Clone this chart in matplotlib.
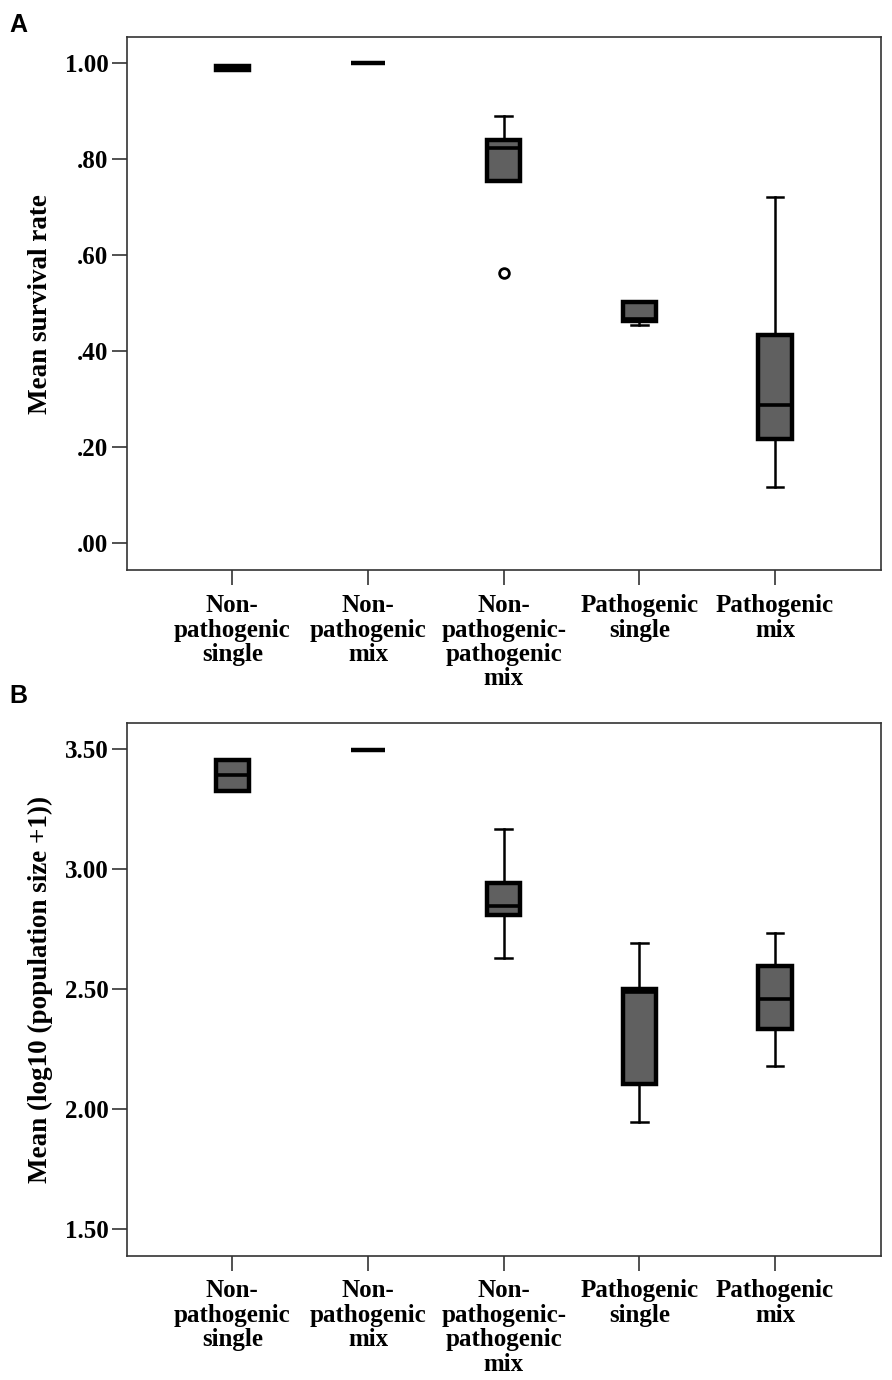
import matplotlib
matplotlib.use("Agg")
import matplotlib.pyplot as plt

plt.rcParams['font.family'] = ['Liberation Serif', 'DejaVu Serif']
plt.rcParams['font.weight'] = 'bold'

# Categories (shared by both panels)
categories = [
    "Non-\npathogenic\nsingle",
    "Non-\npathogenic\nmix",
    "Non-\npathogenic-\npathogenic\nmix",
    "Pathogenic\nsingle",
    "Pathogenic\nmix",
]

# Panel A: mean survival rate
surv_whislo = [0.985, 1.00, 0.754, 0.455, 0.117]
surv_q1 = [0.985, 1.00, 0.754, 0.464, 0.218]
surv_med = [0.99, 1.00, 0.824, 0.467, 0.288]
surv_q3 = [0.995, 1.00, 0.841, 0.502, 0.433]
surv_whishi = [0.995, 1.00, 0.89, 0.502, 0.721]
surv_fliers = [[], [], [0.5625], [], []]
surv_ticks = [0.0, 0.2, 0.4, 0.6, 0.8, 1.0]
surv_ticklabels = [".00", ".20", ".40", ".60", ".80", "1.00"]

# Panel B: mean log10(population size + 1)
pop_whislo = [3.326, 3.497, 2.628, 1.946, 2.178]
pop_q1 = [3.326, 3.497, 2.807, 2.105, 2.334]
pop_med = [3.392, 3.497, 2.847, 2.487, 2.458]
pop_q3 = [3.453, 3.497, 2.942, 2.499, 2.596]
pop_whishi = [3.453, 3.497, 3.165, 2.69, 2.735]
pop_fliers = [[], [], [], [], []]
pop_ticks = [1.5, 2.0, 2.5, 3.0, 3.5]
pop_ticklabels = ["1.50", "2.00", "2.50", "3.00", "3.50"]

BOX_FACE = "#606060"
TICK_FS = 18
LABEL_FS = 19.5


def make_stats(whislo, q1, med, q3, whishi, fliers):
    stats = []
    for i in range(len(med)):
        stats.append({
            'whislo': whislo[i], 'q1': q1[i], 'med': med[i],
            'q3': q3[i], 'whishi': whishi[i], 'fliers': fliers[i],
        })
    return stats


def draw_panel(ax, stats, ylim, ticks, ticklabels, ylabel):
    positions = list(range(1, len(stats) + 1))
    ax.bxp(
        stats, positions=positions, widths=0.245, capwidths=0.123,
        patch_artist=True, showfliers=True,
        boxprops=dict(facecolor=BOX_FACE, edgecolor='black', linewidth=3.2),
        medianprops=dict(color='black', linewidth=2.6),
        whiskerprops=dict(color='black', linewidth=1.8),
        capprops=dict(color='black', linewidth=1.8),
        flierprops=dict(marker='o', markerfacecolor='white',
                        markeredgecolor='black', markersize=7,
                        markeredgewidth=2),
    )
    ax.set_xlim(0.2235, 5.782)
    ax.set_ylim(*ylim)
    ax.set_yticks(ticks)
    ax.set_yticklabels(ticklabels, fontsize=TICK_FS, fontweight='bold')
    ax.set_xticks(positions)
    ax.set_xticklabels(categories, fontsize=TICK_FS, fontweight='bold',
                       linespacing=1.08)
    ax.tick_params(axis='both', direction='out', length=10.5, width=1.1,
                   color='#222222', pad=3)
    ax.tick_params(axis='x', pad=6.5)
    for side in ['left', 'bottom', 'top', 'right']:
        ax.spines[side].set_linewidth(1.2)
        ax.spines[side].set_color('#333333')
    ax.text(-0.115, 0.5, ylabel, transform=ax.transAxes, rotation=90,
            ha='center', va='center', fontsize=LABEL_FS, fontweight='bold')


fig = plt.figure(figsize=(8.92, 13.80), dpi=100)
ax_a = fig.add_axes([0.1424, 0.5866, 0.8453, 0.3864])
ax_b = fig.add_axes([0.1424, 0.0901, 0.8453, 0.3862])

draw_panel(ax_a, make_stats(surv_whislo, surv_q1, surv_med, surv_q3,
                            surv_whishi, surv_fliers),
           (-0.0567, 1.054), surv_ticks, surv_ticklabels,
           "Mean survival rate")
draw_panel(ax_b, make_stats(pop_whislo, pop_q1, pop_med, pop_q3,
                            pop_whishi, pop_fliers),
           (1.389, 3.61), pop_ticks, pop_ticklabels,
           "Mean (log10 (population size +1))")

fig.text(0.010, 0.9768, "A", fontsize=18, fontweight='bold',
         family=['Liberation Sans', 'DejaVu Sans'], va='baseline')
fig.text(0.010, 0.4906, "B", fontsize=18, fontweight='bold',
         family=['Liberation Sans', 'DejaVu Sans'], va='baseline')

fig.savefig("out.png", dpi=100)
